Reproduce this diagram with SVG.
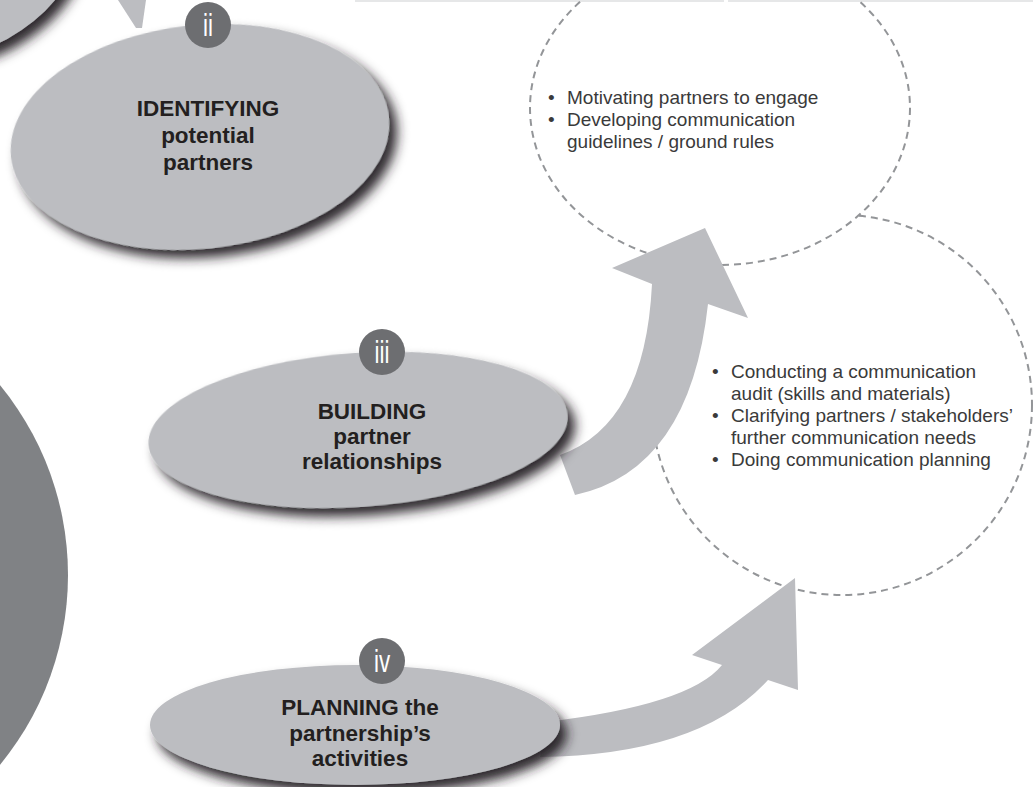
<svg xmlns="http://www.w3.org/2000/svg" width="1033" height="787" viewBox="0 0 1033 787">
<defs>
<style>
.ell{fill:#bcbdc1;filter:url(#sh)}
.badge{fill:#6d6e71}
.bt{font-family:"Liberation Sans",Arial,sans-serif;font-size:32px;fill:#fff;text-anchor:middle}
.lbl{font-family:"Liberation Sans",Arial,sans-serif;font-weight:bold;font-size:22.5px;fill:#231f20;text-anchor:middle}
.txt{font-family:"Liberation Sans",Arial,sans-serif;font-size:19px;fill:#3a3a3a}
.dash{fill:none;stroke:#939598;stroke-width:2;stroke-dasharray:7 5}
.arr{fill:#bcbdc1}
</style>
<filter id="sh" x="-20%" y="-30%" width="150%" height="170%">
<feDropShadow dx="7" dy="9" stdDeviation="6" flood-color="#231f20" flood-opacity="0.95"/>
</filter>
<mask id="m1">
<rect width="1033" height="787" fill="#fff"/>
<ellipse cx="720" cy="108" rx="190" ry="157" fill="#000"/>
</mask>
</defs>
<rect width="1033" height="787" fill="#fff"/>
<g id="topline" stroke="#e6e7e8" stroke-width="2">
<line x1="355" y1="1" x2="724" y2="1"/>
<line x1="728" y1="1" x2="1033" y2="1"/>
</g>
<g id="circle-top">
<ellipse class="dash" cx="720" cy="108" rx="190" ry="157"/>
<text class="txt"><tspan x="548" y="104">•</tspan><tspan x="567" y="104">Motivating partners to engage</tspan><tspan x="548" y="126">•</tspan><tspan x="567" y="126">Developing communication</tspan><tspan x="567" y="148">guidelines / ground rules</tspan></text>
</g>
<g id="circle-bottom">
<circle class="dash" cx="842" cy="405" r="190" mask="url(#m1)"/>
<text class="txt"><tspan x="712" y="378">•</tspan><tspan x="731" y="378">Conducting a communication</tspan><tspan x="731" y="400">audit (skills and materials)</tspan><tspan x="712" y="422">•</tspan><tspan x="731" y="422">Clarifying partners / stakeholders’</tspan><tspan x="731" y="444">further communication needs</tspan><tspan x="712" y="466">•</tspan><tspan x="731" y="466">Doing communication planning</tspan></text>
</g>
<g id="connectors">
<polygon class="arr" points="118,0 146,0 142,28 136,28"/>
<path class="arr" d="M560,455 Q645,425 652,284 L612,268 L705,228 L748,318 L708,304 Q690,470 575,495 Z"/>
<path class="arr" d="M545,722 Q690,705 722,665 L692,655 L795,578 L798,690 L768,680 Q700,755 540,757 Z"/>
</g>
<g id="node-i">
<ellipse class="ell" cx="-90" cy="-80" rx="175" ry="143"/>
</g>
<g id="node-ii">
<ellipse class="ell" cx="200" cy="137" rx="190" ry="112" transform="rotate(-6 200 137)"/>
<circle class="badge" cx="208" cy="25" r="23"/>
<text class="bt" x="208" y="36" transform="translate(208 0) scale(0.7 1) translate(-208 0)">ii</text>
<text class="lbl"><tspan x="208" y="116">IDENTIFYING</tspan><tspan x="208" y="143">potential</tspan><tspan x="208" y="170">partners</tspan></text>
</g>
<g id="node-iii">
<ellipse class="ell" cx="358" cy="430" rx="210" ry="77" transform="rotate(-4 358 430)"/>
<circle class="badge" cx="382" cy="352" r="23"/>
<text class="bt" x="382" y="363" transform="translate(382 0) scale(0.7 1) translate(-382 0)">iii</text>
<text class="lbl"><tspan x="372" y="419">BUILDING</tspan><tspan x="372" y="444">partner</tspan><tspan x="372" y="469">relationships</tspan></text>
</g>
<g id="node-iv">
<ellipse class="ell" cx="355" cy="725" rx="205" ry="60"/>
<circle class="badge" cx="382" cy="661" r="23"/>
<text class="bt" x="382" y="672" transform="translate(382 0) scale(0.7 1) translate(-382 0)">iv</text>
<text class="lbl"><tspan x="360" y="715">PLANNING the</tspan><tspan x="360" y="741">partnership’s</tspan><tspan x="360" y="766">activities</tspan></text>
</g>
<g id="node-v">
<circle cx="-231" cy="575" r="299" fill="#808285"/>
</g>
</svg>
